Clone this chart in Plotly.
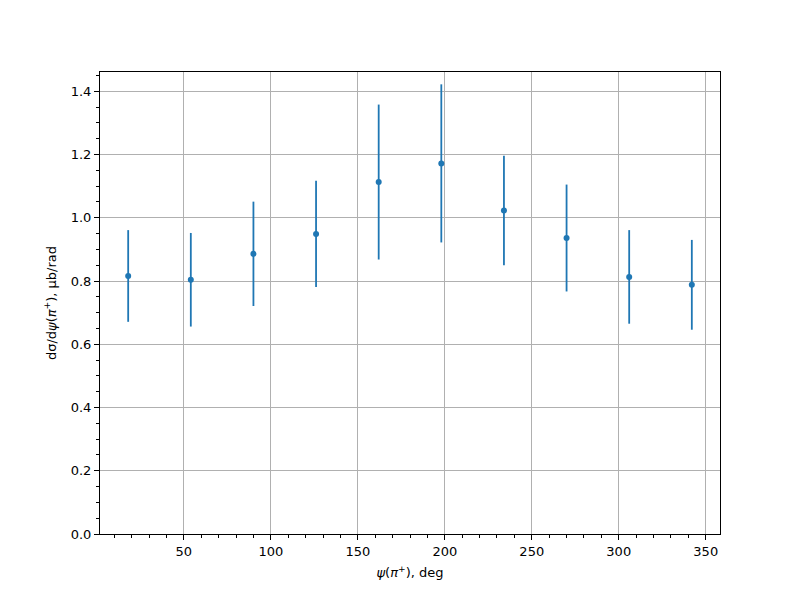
import plotly.graph_objects as go

# angle bins (deg), cross section and its error
psi_deg = [18, 54, 90, 126, 162, 198, 234, 270, 306, 342]
dsigma = [0.816, 0.804, 0.886, 0.949, 1.113, 1.172, 1.023, 0.936, 0.813, 0.788]
dsigma_err = [0.145, 0.148, 0.165, 0.168, 0.245, 0.250, 0.173, 0.169, 0.148, 0.142]

blue = '#1f77b4'
font = dict(family='DejaVu Sans', size=13, color='black')

fig = go.Figure()
fig.add_trace(go.Scatter(
    x=psi_deg,
    y=dsigma,
    mode='markers',
    marker=dict(color=blue, size=6),
    error_y=dict(type='data', array=dsigma_err, visible=True,
                 color=blue, thickness=1.8, width=0),
    showlegend=False,
))

axis_common = dict(
    showline=True, linecolor='black', linewidth=1, mirror=True,
    ticks='outside', ticklen=5, tickwidth=1, tickcolor='black',
    showgrid=True, gridcolor='#b0b0b0', gridwidth=1,
    zeroline=False, tickfont=font,
)

fig.update_xaxes(
    range=[1.8, 358.2], tick0=0, dtick=50,
    minor=dict(ticks='outside', ticklen=3, tickcolor='black', dtick=10, tick0=0, showgrid=False),
    title=dict(text='<i>ψ</i>(<i>π</i><sup>+</sup>), deg', font=font, standoff=10),
    **axis_common
)
fig.update_yaxes(
    range=[0, 1.461], tick0=0, dtick=0.2, tickformat='.1f',
    minor=dict(ticks='outside', ticklen=3, tickcolor='black', dtick=0.05, tick0=0, showgrid=False),
    title=dict(text='dσ/d<i>ψ</i>(<i>π</i><sup>+</sup>), μb/rad', font=font, standoff=11),
    **axis_common
)

# page body adds an 8px offset, so margins are shifted to keep the plot box at 100..720 x 72..534
fig.update_layout(
    width=800, height=600,
    margin=dict(l=92, r=88, t=64, b=74),
    plot_bgcolor='white', paper_bgcolor='white',
    font=font,
)

fig.write_html("out.html")
